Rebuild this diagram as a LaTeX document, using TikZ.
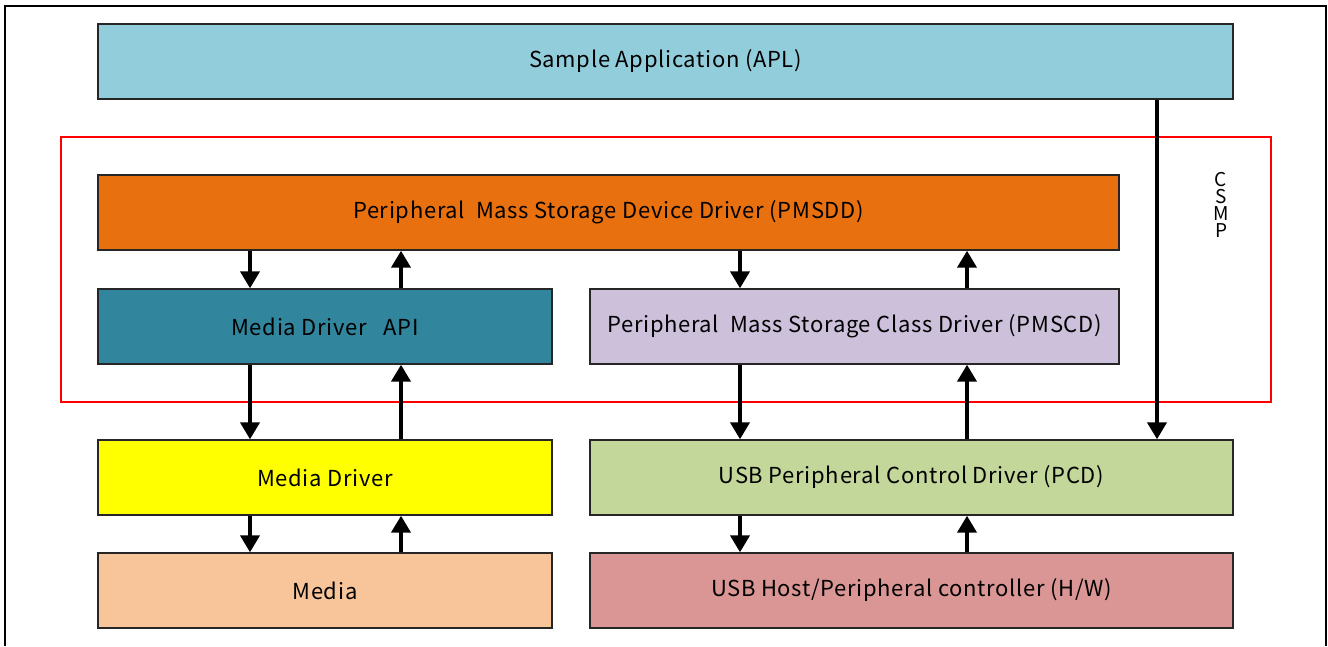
\documentclass[tikz,border=0pt]{standalone}
\usepackage{fontspec}
\setmainfont{Noto Sans CJK JP}[LetterSpace=3]
\usetikzlibrary{arrows.meta}
\definecolor{aplc}{HTML}{92CDDC}
\definecolor{pmsddc}{HTML}{E9700F}
\definecolor{mapic}{HTML}{31859C}
\definecolor{pmscdc}{HTML}{CCC0DA}
\definecolor{mdrvc}{HTML}{FFFF00}
\definecolor{pcdc}{HTML}{C4D79B}
\definecolor{mediac}{HTML}{F8C59B}
\definecolor{hwc}{HTML}{DA9694}
\tikzset{
  layer/.style={draw=black!85, line width=1.4pt, inner sep=0pt, font=\fontsize{22}{26}\selectfont},
  flow/.style={line width=4pt, -{Triangle[length=17pt,width=19pt]}},
}
\begin{document}
\begin{tikzpicture}[x=1pt,y=-1pt]
\useasboundingbox (0,0) rectangle (1328,646);
% outer frame, open at the bottom
\draw[line width=2.6pt] (5,646) -- (5,6) -- (1326,6) -- (1326,646);
% module boundary
\draw[red, line width=2pt] (61,137) rectangle (1271,402);
\node[font=\fontsize{19}{17}\selectfont, align=center, inner sep=0pt] (csmp) at (1221,205) {C\\S\\M\\P};
% layers
\node[layer, fill=aplc, minimum width=1135pt, minimum height=75pt] (apl) at (665.5,61.5) {Sample Application (APL)};
\node[layer, fill=pmsddc, minimum width=1021pt, minimum height=75pt] (pmsdd) at (608.5,212.5) {Peripheral\ \ Mass Storage Device Driver (PMSDD)};
\node[layer, fill=mapic, minimum width=454pt, minimum height=75pt] (mapi) at (325,326.5) {Media Driver\ \ \ API};
\node[layer, fill=pmscdc, minimum width=529pt, minimum height=75pt] (pmscd) at (854.5,326.5) {Peripheral\ \ Mass Storage Class Driver (PMSCD)};
\node[layer, fill=mdrvc, minimum width=454pt, minimum height=75pt] (mdrv) at (325,477.5) {Media Driver};
\node[layer, fill=pcdc, minimum width=643pt, minimum height=75pt] (pcd) at (911.5,477.5) {USB Peripheral Control Driver (PCD)};
\node[layer, fill=mediac, minimum width=454pt, minimum height=75pt] (media) at (325,590.5) {Media};
\node[layer, fill=hwc, minimum width=643pt, minimum height=75pt] (hw) at (911.5,590.5) {USB Host/Peripheral controller (H/W)};
% data flow between layers
\draw[flow] (pmsdd.south -| 250,0) -- (mapi.north -| 250,0);
\draw[flow] (mapi.north -| 401,0) -- (pmsdd.south -| 401,0);
\draw[flow] (pmsdd.south -| 740,0) -- (pmscd.north -| 740,0);
\draw[flow] (pmscd.north -| 967,0) -- (pmsdd.south -| 967,0);
\draw[flow] (mapi.south -| 250,0) -- (mdrv.north -| 250,0);
\draw[flow] (mdrv.north -| 401,0) -- (mapi.south -| 401,0);
\draw[flow] (pmscd.south -| 740,0) -- (pcd.north -| 740,0);
\draw[flow] (pcd.north -| 967,0) -- (pmscd.south -| 967,0);
\draw[flow] (mdrv.south -| 250,0) -- (media.north -| 250,0);
\draw[flow] (media.north -| 401,0) -- (mdrv.south -| 401,0);
\draw[flow] (pcd.south -| 740,0) -- (hw.north -| 740,0);
\draw[flow] (hw.north -| 967,0) -- (pcd.south -| 967,0);
\draw[flow] (apl.south -| 1157,0) -- (pcd.north -| 1157,0);
\end{tikzpicture}
\end{document}
